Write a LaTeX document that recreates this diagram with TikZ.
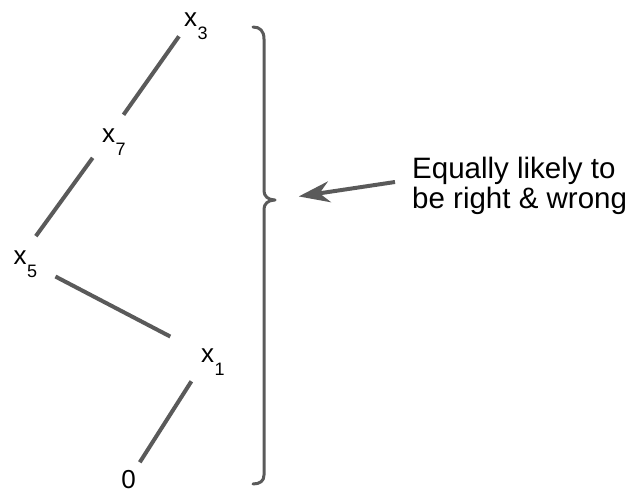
\documentclass[tikz,border=0pt]{standalone}
\usepackage{fontspec}
\setmainfont{Liberation Sans}
\usetikzlibrary{arrows.meta}
\definecolor{linegray}{HTML}{5A5A5A}
\newcommand\xsub[1]{x\rlap{\smash{\hspace{0.5pt}\raisebox{-12.5pt}{\fontsize{18}{18}\selectfont #1}}}}
\begin{document}
\begin{tikzpicture}[x=1pt,y=-1pt,
  lbl/.style={inner sep=0pt, font=\fontsize{26}{26}\selectfont},
  edge/.style={draw=linegray, line width=4pt},
  bracepath/.style={draw=linegray, line width=3pt, line join=round, line cap=round},
  txt/.style={inner sep=0pt, align=left, font=\fontsize{29.5}{30}\selectfont}]
\useasboundingbox (0,0) rectangle (635,494);
\node[lbl] (x3) at (190.5,20) {\xsub{3}};
\node[lbl] (x7) at (108.5,136) {\xsub{7}};
\node[lbl] (x5) at (20,258) {\xsub{5}};
\node[lbl] (x1) at (207.5,356) {\xsub{1}};
\node[lbl] (x0) at (128.5,480) {0};
\draw[edge, shorten <=20pt, shorten >=26pt] (x3.center) -- (x7.center);
\draw[edge, shorten <=27pt, shorten >=27pt] (x7.center) -- (x5.center);
\draw[edge, shorten <=40pt, shorten >=42pt] (x5.center) -- (x1.center);
\draw[edge, shorten <=30pt, shorten >=21pt] (x1.center) -- (x0.center);
\draw[bracepath] (253,27) .. controls (260,27) and (264,31) .. (264,39) -- (264,191)
  .. controls (264,196) and (268,200) .. (275,200)
  .. controls (268,200) and (264,204) .. (264,209) -- (264,475)
  .. controls (264,481) and (260,484) .. (253,484);
\node[txt, anchor=west] (txt) at (412,186) {Equally likely to\\be right \& wrong};
\coordinate (tail) at (395,182);
\coordinate (btip) at (275,200);
\draw[edge, -{Stealth[length=31pt,width=21pt,inset=10pt]}, shorten >=24pt] (tail) -- (btip);
\end{tikzpicture}
\end{document}
